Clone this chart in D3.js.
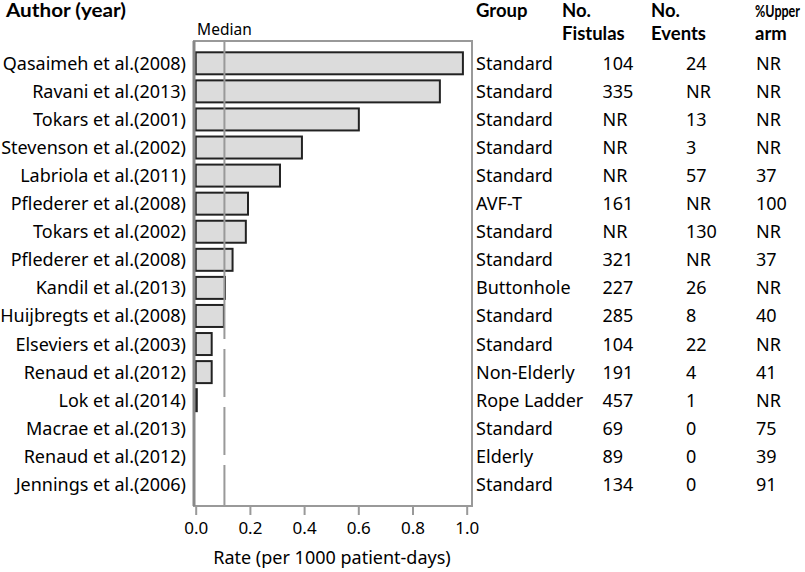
<!DOCTYPE html>
<html>
<head>
<meta charset="utf-8">
<script src="https://cdn.jsdelivr.net/npm/d3@7/dist/d3.min.js"></script>
<style>
  html, body { margin: 0; padding: 0; background: #fff; }
  svg { display: block; font-family: "Noto Sans", "Open Sans", sans-serif; }
</style>
</head>
<body>
<svg id="chart" width="805" height="572"></svg>
<script>
const authors = ["Qasaimeh et al.(2008)", "Ravani et al.(2013)", "Tokars et al.(2001)", "Stevenson et al.(2002)",
  "Labriola et al.(2011)", "Pflederer et al.(2008)", "Tokars et al.(2002)", "Pflederer et al.(2008)",
  "Kandil et al.(2013)", "Huijbregts et al.(2008)", "Elseviers et al.(2003)", "Renaud et al.(2012)",
  "Lok et al.(2014)", "Macrae et al.(2013)", "Renaud et al.(2012)", "Jennings et al.(2006)"];
const rates = [0.986, 0.901, 0.602, 0.392, 0.311, 0.193, 0.185, 0.136, 0.108, 0.104, 0.059, 0.059, 0.004, 0, 0, 0];
const groups = ["Standard", "Standard", "Standard", "Standard", "Standard", "AVF-T", "Standard", "Standard",
  "Buttonhole", "Standard", "Standard", "Non-Elderly", "Rope Ladder", "Standard", "Elderly", "Standard"];
const fistulas = ["104", "335", "NR", "NR", "NR", "161", "NR", "321", "227", "285", "104", "191", "457", "69", "89", "134"];
const events = ["24", "NR", "13", "3", "57", "NR", "130", "NR", "26", "8", "22", "4", "1", "0", "0", "0"];
const upperArm = ["NR", "NR", "NR", "NR", "37", "100", "NR", "37", "NR", "40", "NR", "41", "NR", "75", "39", "91"];
const medianRate = 0.106;
const xTicks = [0, 0.2, 0.4, 0.6, 0.8, 1.0];

const svg = d3.select("#chart");
const frame = { left: 194, right: 472, top: 41, bottom: 506 };

const x = d3.scaleLinear().domain([0, 1]).range([195.7, 466.7]);
const idx = d3.range(authors.length);
const y = d3.scalePoint().domain(idx).range([63.3, 484.4]);
const barH = 22;

// headers
const hdr = svg.append("g").attr("font-weight", "bold").attr("font-size", 18.5)
  .attr("font-family", "Lato, 'Noto Sans', sans-serif").attr("fill", "#000");
hdr.append("text").attr("x", 6).attr("y", 17).attr("textLength", 120).attr("lengthAdjust", "spacingAndGlyphs").text("Author (year)");
hdr.append("text").attr("x", 476).attr("y", 17).text("Group");
function twoLine(xp, a, b, fitFirst) {
  const t = hdr.append("text").attr("x", xp).attr("y", 17);
  const t1 = t.append("tspan").attr("x", xp).text(a);
  if (fitFirst) t1.attr("textLength", fitFirst).attr("lengthAdjust", "spacingAndGlyphs").attr("font-size", 17);
  t.append("tspan").attr("x", xp).attr("dy", 22.5).text(b);
}
twoLine(562, "No.", "Fistulas");
twoLine(651, "No.", "Events");
twoLine(755, "%Upper", "arm", 45);

// bars
svg.append("g").selectAll("rect").data(idx).join("rect")
  .attr("x", x(0))
  .attr("y", i => y(i) - barH / 2)
  .attr("width", i => Math.max(0, x(rates[i]) - x(0)))
  .attr("height", barH)
  .attr("fill", "#dcdcdc")
  .attr("stroke", i => rates[i] > 0 ? "#222" : "none")
  .attr("stroke-width", 2);

// median line: solid through the upper rows, long-dashed below
const splitY = 339;
svg.append("line")
  .attr("x1", x(medianRate)).attr("x2", x(medianRate))
  .attr("y1", frame.top).attr("y2", splitY)
  .attr("stroke", "#999").attr("stroke-width", 2);
svg.append("line")
  .attr("x1", x(medianRate)).attr("x2", x(medianRate))
  .attr("y1", splitY + 10).attr("y2", frame.bottom)
  .attr("stroke", "#999").attr("stroke-width", 2)
  .attr("stroke-dasharray", "48,10");
svg.append("text").attr("x", x(medianRate)).attr("y", 35)
  .attr("text-anchor", "middle").attr("font-size", 15.5).text("Median");

// frame
svg.append("rect")
  .attr("x", frame.left).attr("y", frame.top)
  .attr("width", frame.right - frame.left).attr("height", frame.bottom - frame.top)
  .attr("fill", "none").attr("stroke", "#999").attr("stroke-width", 2);
svg.append("line").attr("x1", frame.left).attr("x2", frame.left)
  .attr("y1", frame.top).attr("y2", frame.bottom)
  .attr("stroke", "#888").attr("stroke-width", 3);

// x axis
const axis = svg.append("g").attr("transform", `translate(0,${frame.bottom})`)
  .call(d3.axisBottom(x).tickValues(xTicks).tickFormat(d3.format(".1f")).tickSize(9).tickSizeOuter(0));
axis.select(".domain").remove();
axis.selectAll(".tick line").attr("stroke", "#999").attr("stroke-width", 2);
axis.selectAll(".tick text").attr("font-size", 17).attr("font-family", '"Noto Sans", sans-serif')
  .attr("fill", "#000").attr("y", 16);
svg.append("text").attr("x", 332).attr("y", 564).attr("text-anchor", "middle")
  .attr("font-size", 18).text("Rate (per 1000 patient-days)");

// row labels and table
const rows = svg.append("g").attr("font-size", 18).attr("fill", "#000");
rows.selectAll("text.author").data(idx).join("text").attr("class", "author")
  .attr("x", 186).attr("y", i => y(i)).attr("dy", "0.36em").attr("text-anchor", "end")
  .text(i => authors[i]);
rows.selectAll("text.group").data(idx).join("text").attr("class", "group")
  .attr("x", 476).attr("y", i => y(i)).attr("dy", "0.36em").text(i => groups[i]);
rows.selectAll("text.fist").data(idx).join("text").attr("class", "fist")
  .attr("x", 602.5).attr("y", i => y(i)).attr("dy", "0.36em").text(i => fistulas[i]);
rows.selectAll("text.ev").data(idx).join("text").attr("class", "ev")
  .attr("x", 686).attr("y", i => y(i)).attr("dy", "0.36em").text(i => events[i]);
rows.selectAll("text.ua").data(idx).join("text").attr("class", "ua")
  .attr("x", 756).attr("y", i => y(i)).attr("dy", "0.36em").text(i => upperArm[i]);
</script>
</body>
</html>
